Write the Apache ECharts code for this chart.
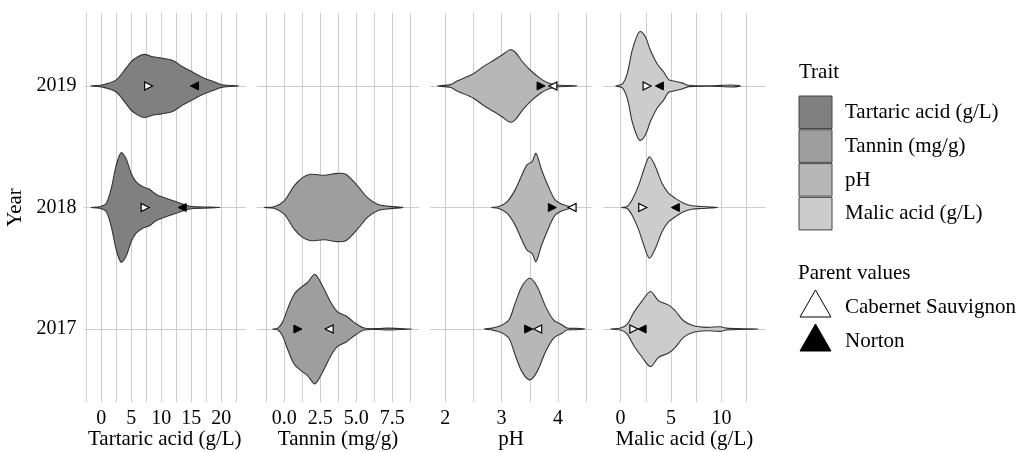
<!DOCTYPE html>
<html>
<head>
<meta charset="utf-8">
<script src="https://cdn.jsdelivr.net/npm/echarts@6/dist/echarts.min.js"></script>
<style>
html, body { margin: 0; padding: 0; background: #fff; }
#chart { width: 1019px; height: 452px; }
</style>
</head>
<body>
<div id="chart"></div>
<script>
// categories
const years = ['2017', '2018', '2019'];
const traits = ['Tartaric acid (g/L)', 'Tannin (mg/g)', 'pH', 'Malic acid (g/L)'];
const parents = ['Cabernet Sauvignon', 'Norton'];

// tick labels per panel
const tartaricTicks = [0, 5, 10, 15, 20];
const tartaricTickLabels = ['0', '5', '10', '15', '20'];
const tanninTicks = [0, 2.5, 5, 7.5];
const tanninTickLabels = ['0.0', '2.5', '5.0', '7.5'];
const phTicks = [2, 3, 4];
const phTickLabels = ['2', '3', '4'];
const malicTicks = [0, 5, 10];
const malicTickLabels = ['0', '5', '10'];

// violin outlines: value along x, half width (in year units)
const tartaric2019X = [-1.7, 0.3, 2.5, 4.2, 5.0, 6.1, 7.2, 8.6, 10.0, 11.9, 13.5, 15.0, 16.9, 18.5, 20.2, 22.9];
const tartaric2019W = [0, 0.01, 0.05, 0.15, 0.2, 0.24, 0.26, 0.24, 0.23, 0.21, 0.16, 0.12, 0.07, 0.04, 0.01, 0];
const tartaric2018X = [-1.67, -0.28, 0.83, 1.67, 2.5, 3.33, 4.17, 5.0, 5.83, 6.94, 8.06, 9.17, 10.56, 12.5, 14.17, 15.28, 19.83];
const tartaric2018W = [0, 0.006, 0.033, 0.156, 0.347, 0.451, 0.4, 0.279, 0.21, 0.17, 0.15, 0.107, 0.08, 0.047, 0.019, 0.008, 0];

const tannin2018X = [-1.39, -0.7, 0, 0.69, 1.27, 1.85, 2.78, 3.7, 4.28, 5.09, 5.78, 6.48, 7.17, 8.26];
const tannin2018W = [0, 0.006, 0.055, 0.178, 0.246, 0.273, 0.265, 0.281, 0.273, 0.178, 0.082, 0.027, 0.011, 0];
const tannin2017X = [-0.81, -0.46, -0.12, 0.23, 0.69, 1.16, 1.62, 2.13, 2.66, 3.24, 3.7, 4.28, 4.86, 5.55, 6.5, 7.2, 8.0, 8.86];
const tannin2017W = [0, 0.006, 0.055, 0.164, 0.287, 0.342, 0.383, 0.451, 0.355, 0.219, 0.142, 0.109, 0.055, 0.008, 0.004, 0.008, 0.004, 0];

const ph2019X = [1.86, 2.09, 2.21, 2.5, 2.68, 2.86, 3.0, 3.15, 3.24, 3.36, 3.51, 3.69, 3.83, 3.98, 4.34];
const ph2019W = [0, 0.011, 0.041, 0.101, 0.161, 0.211, 0.252, 0.298, 0.279, 0.205, 0.129, 0.06, 0.025, 0.008, 0];
const ph2018X = [2.82, 2.95, 3.1, 3.24, 3.36, 3.45, 3.54, 3.61, 3.71, 3.83, 3.95, 4.1, 4.22, 4.3];
const ph2018W = [0, 0.008, 0.049, 0.145, 0.268, 0.35, 0.377, 0.445, 0.309, 0.172, 0.063, 0.022, 0.006, 0];
const ph2017X = [2.69, 2.83, 2.98, 3.13, 3.24, 3.36, 3.5, 3.63, 3.78, 3.92, 4.07, 4.16, 4.3, 4.48];
const ph2017W = [0, 0.008, 0.027, 0.076, 0.213, 0.35, 0.418, 0.35, 0.186, 0.076, 0.035, 0.008, 0.006, 0];

const malic2019X = [-0.49, 0.16, 0.66, 1.15, 1.65, 1.97, 2.47, 2.96, 3.62, 4.28, 4.77, 5.27, 6.09, 6.75, 9.0, 11.0, 11.9];
const malic2019W = [0, 0.014, 0.101, 0.293, 0.416, 0.448, 0.402, 0.293, 0.183, 0.115, 0.052, 0.041, 0.025, 0.006, 0.002, 0.008, 0];
const malic2018X = [0.1, 0.66, 1.15, 1.81, 2.3, 2.86, 3.46, 4.11, 4.77, 5.43, 6.25, 7.07, 8.0, 9.0, 9.64];
const malic2018W = [0, 0.008, 0.063, 0.186, 0.309, 0.418, 0.336, 0.199, 0.117, 0.076, 0.035, 0.014, 0.008, 0.004, 0];
const malic2017X = [-0.99, 0, 0.66, 1.32, 2.14, 2.96, 3.78, 4.77, 5.43, 6.25, 7.24, 8.55, 9.87, 10.5, 12.2, 13.65];
const malic2017W = [0, 0.008, 0.041, 0.137, 0.232, 0.309, 0.232, 0.197, 0.15, 0.068, 0.027, 0.014, 0.019, 0.008, 0.003, 0];

// parent values, ordered 2017, 2018, 2019
const cabernetTartaric = [null, 7.33, 7.9];
const nortonTartaric = [null, 13.5, 15.55];
const cabernetTannin = [3.12, null, null];
const nortonTannin = [0.95, null, null];
const cabernetPh = [3.64, 4.25, 3.91];
const nortonPh = [3.48, 3.9, 3.7];
const cabernetMalic = [1.32, 2.2, 2.63];
const nortonMalic = [2.14, 5.43, 3.85];

const FONT = 'Liberation Serif';
const fills = ['#808080', '#9e9e9e', '#b7b7b7', '#cccccc'];
const gridColor = '#cdcdcd';

const panels = [
  { ticks: tartaricTicks, labels: tartaricTickLabels,
    violins: [{ year: '2019', x: tartaric2019X, w: tartaric2019W }, { year: '2018', x: tartaric2018X, w: tartaric2018W }],
    cab: cabernetTartaric, nor: nortonTartaric },
  { ticks: tanninTicks, labels: tanninTickLabels,
    violins: [{ year: '2018', x: tannin2018X, w: tannin2018W }, { year: '2017', x: tannin2017X, w: tannin2017W }],
    cab: cabernetTannin, nor: nortonTannin },
  { ticks: phTicks, labels: phTickLabels,
    violins: [{ year: '2019', x: ph2019X, w: ph2019W }, { year: '2018', x: ph2018X, w: ph2018W }, { year: '2017', x: ph2017X, w: ph2017W }],
    cab: cabernetPh, nor: nortonPh },
  { ticks: malicTicks, labels: malicTickLabels,
    violins: [{ year: '2019', x: malic2019X, w: malic2019W }, { year: '2018', x: malic2018X, w: malic2018W }, { year: '2017', x: malic2017X, w: malic2017W }],
    cab: cabernetMalic, nor: nortonMalic }
];

const panelLeft = 83.6, panelWidth = 162.4, panelGap = 10.8;
const panelTop = 13, panelHeight = 389;

const grids = [], xAxes = [], yAxes = [], series = [];

panels.forEach((p, i) => {
  // x range: data extent + 5% each side, like ggplot
  let lo = Infinity, hi = -Infinity;
  p.violins.forEach(v => { lo = Math.min(lo, v.x[0]); hi = Math.max(hi, v.x[v.x.length - 1]); });
  const pad = (hi - lo) * 0.05;
  const min = lo - pad, max = hi + pad;
  const half = (p.ticks[1] - p.ticks[0]) / 2;
  const gridVals = [];
  for (let v = Math.ceil(min / half) * half; v <= max; v += half) gridVals.push(+v.toFixed(4));

  grids.push({
    left: panelLeft + i * (panelWidth + panelGap), width: panelWidth,
    top: panelTop, height: panelHeight, outerBoundsMode: 'none', containLabel: false
  });

  xAxes.push({
    gridIndex: i, type: 'value', min: min, max: max,
    name: traits[i], nameLocation: 'middle', nameGap: 27, nameMoveOverlap: false,
    nameTextStyle: { fontFamily: FONT, fontSize: 21, color: '#000' },
    axisLine: { show: false },
    axisTick: { show: false, customValues: gridVals },
    axisLabel: {
      customValues: p.ticks, margin: 7,
      fontFamily: FONT, fontSize: 20, color: '#000',
      formatter: v => p.labels[p.ticks.indexOf(v)]
    },
    splitLine: { show: true, lineStyle: { color: gridColor, width: 1 } }
  });

  yAxes.push({
    gridIndex: i, type: 'value', min: 0.4, max: 3.6,
    name: i === 0 ? 'Year' : '', nameLocation: 'middle', nameGap: 58, nameRotate: 90, nameMoveOverlap: false,
    nameTextStyle: { fontFamily: FONT, fontSize: 21, color: '#000' },
    axisLine: { show: false },
    axisTick: { show: false, customValues: [1, 2, 3] },
    axisLabel: {
      show: i === 0, customValues: [1, 2, 3], margin: 7,
      fontFamily: FONT, fontSize: 20, color: '#000',
      formatter: v => years[Math.round(v) - 1]
    },
    splitLine: { show: true, lineStyle: { color: gridColor, width: 1 } }
  });

  series.push({
    type: 'custom', name: traits[i], xAxisIndex: i, yAxisIndex: i,
    data: p.violins.map(v => [v.x[0], years.indexOf(v.year) + 1]),
    renderItem: (params, api) => {
      const v = p.violins[params.dataIndex];
      const yc = years.indexOf(v.year) + 1;
      const n = v.x.length;
      const pts = [];
      for (let k = 0; k < n; k++) pts.push(api.coord([v.x[k], yc + v.w[k]]));
      for (let k = n - 2; k >= 1; k--) pts.push(api.coord([v.x[k], yc - v.w[k]]));
      return {
        type: 'polygon',
        shape: { points: pts, smooth: 0.3 },
        style: { fill: fills[i], stroke: '#333333', lineWidth: 1.1 }
      };
    },
    z: 2
  });

  // parent markers: triangles pointing toward each other
  const mk = (vals, other) => vals.map((v, k) => v == null ? null : {
    value: [v, k + 1],
    symbolRotate: (other[k] != null && v > other[k]) ? 90 : -90
  }).filter(d => d);
  series.push({
    type: 'scatter', name: parents[0], xAxisIndex: i, yAxisIndex: i,
    symbol: 'triangle', symbolSize: 8, z: 4,
    itemStyle: { color: '#ffffff', borderColor: '#000', borderWidth: 1.2, opacity: 1 },
    data: mk(p.cab, p.nor)
  });
  series.push({
    type: 'scatter', name: parents[1], xAxisIndex: i, yAxisIndex: i,
    symbol: 'triangle', symbolSize: 8, z: 4,
    itemStyle: { color: '#000', borderColor: '#000', borderWidth: 1, opacity: 1 },
    data: mk(p.nor, p.cab)
  });
});

// legend drawn as graphics
const legendX = 799;
const legendFont = '21px ' + FONT;
const graphic = [
  { type: 'text', x: legendX, y: 72, style: { text: 'Trait', font: legendFont, fill: '#000', textVerticalAlign: 'middle' } }
];
traits.forEach((t, k) => {
  const y = 96 + k * 33.8;
  graphic.push({ type: 'rect', shape: { x: legendX, y: y, width: 33, height: 32.5 },
    style: { fill: fills[k], stroke: '#444', lineWidth: 1 } });
  graphic.push({ type: 'text', x: 845, y: y + 16.5, style: { text: t, font: legendFont, fill: '#000', textVerticalAlign: 'middle' } });
});
graphic.push({ type: 'text', x: 798, y: 273, style: { text: 'Parent values', font: legendFont, fill: '#000', textVerticalAlign: 'middle' } });
parents.forEach((t, k) => {
  const y = 290 + k * 34;
  graphic.push({ type: 'polygon', shape: { points: [[legendX + 1, y + 27], [legendX + 16.5, y], [legendX + 32, y + 27]] },
    style: { fill: k === 0 ? '#fff' : '#000', stroke: '#000', lineWidth: 1 } });
  graphic.push({ type: 'text', x: 845, y: y + 17, style: { text: t, font: legendFont, fill: '#000', textVerticalAlign: 'middle' } });
});

const chart = echarts.init(document.getElementById('chart'), null, { renderer: 'canvas' });
chart.setOption({
  animation: false,
  grid: grids,
  xAxis: xAxes,
  yAxis: yAxes,
  series: series,
  graphic: graphic
});
</script>
</body>
</html>
